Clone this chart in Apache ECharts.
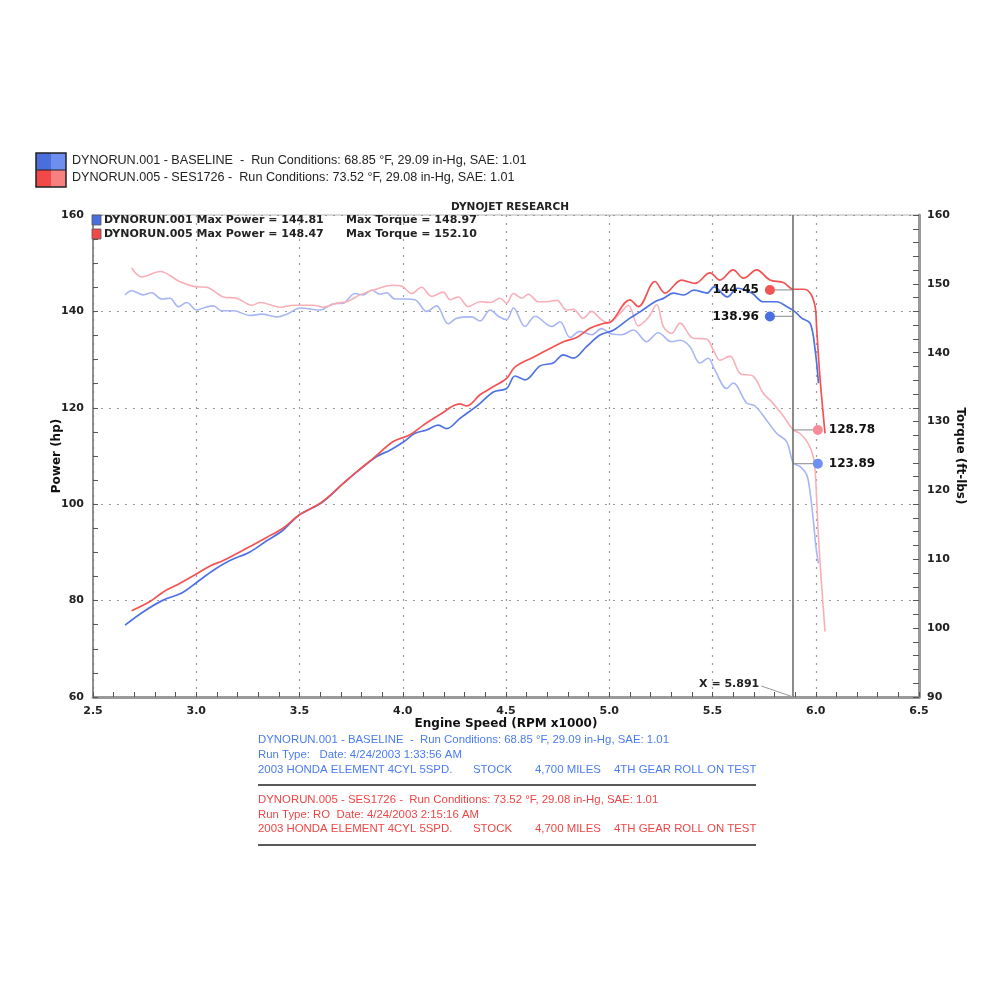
<!DOCTYPE html>
<html><head><meta charset="utf-8">
<script src="https://cdn.jsdelivr.net/npm/echarts/dist/echarts.min.js"></script>
<style>html,body{margin:0;padding:0;background:#fff}#c{width:1000px;height:1000px}</style>
</head><body><div id="c"></div>
<script>
// ---------- DATA ----------
const rpmBlueHp = [2.655,2.744,2.84,2.93,3.0,3.083,3.163,3.26,3.341,3.42,3.5,3.607,3.712,3.777,3.874,3.938,4.003,4.059,4.116,4.172,4.213,4.277,4.366,4.439,4.503,4.544,4.592,4.665,4.729,4.778,4.826,4.89,4.955,5.02,5.1,5.149,5.221,5.262,5.31,5.36,5.41,5.475,5.507,5.572,5.62,5.69,5.746,5.81,5.859,5.9,5.932,5.973,5.997,6.013];
const hpBlue    = [74.9,77.7,80.1,81.6,83.7,86.3,88.3,90.1,92.4,94.6,97.8,100.3,104.3,106.7,109.9,111.2,112.9,114.7,115.4,116.4,115.7,117.8,120.6,123.3,124.0,126.6,125.8,128.7,129.3,131.0,130.3,132.7,135.1,136.1,138.6,139.9,142.0,142.7,143.8,143.4,144.4,143.8,145.1,143.0,144.8,143.8,142.0,142.0,141.0,139.9,138.6,137.5,132.0,125.1];

const rpmRedHp = [2.687,2.776,2.84,2.913,3.0,3.067,3.131,3.26,3.341,3.42,3.5,3.607,3.712,3.777,3.857,3.954,4.035,4.1,4.18,4.277,4.31,4.374,4.439,4.503,4.544,4.633,4.713,4.778,4.842,4.907,4.972,5.012,5.1,5.141,5.221,5.27,5.35,5.415,5.488,5.536,5.6,5.65,5.714,5.778,5.843,5.891,5.94,5.973,5.997,6.004,6.02,6.045];
const hpRed    = [77.9,79.8,81.8,83.4,85.5,87.2,88.3,91.2,93.1,95.0,97.8,100.4,104.3,106.7,109.5,113.0,114.4,116.4,118.6,120.8,120.4,122.7,124.4,126.1,128.5,130.5,132.3,133.7,134.6,136.5,137.5,138.0,142.4,141.0,146.2,143.8,146.5,145.8,148.0,146.5,148.6,146.9,148.6,146.5,146.0,144.6,144.6,143.8,141.0,136.8,126.5,114.7];

const rpmBlueTq = [2.655,2.687,2.744,2.784,2.832,2.873,2.913,2.954,3.002,3.034,3.083,3.123,3.18,3.26,3.317,3.39,3.446,3.502,3.599,3.664,3.712,3.769,3.809,3.85,3.89,3.922,3.962,4.01,4.059,4.116,4.164,4.22,4.261,4.333,4.374,4.423,4.463,4.503,4.536,4.592,4.641,4.722,4.762,4.81,4.858,4.915,4.963,5.004,5.06,5.117,5.181,5.237,5.302,5.343,5.39,5.439,5.479,5.511,5.569,5.6,5.665,5.705,5.762,5.81,5.859,5.891,5.923,5.956,5.973,5.988,6.001,6.013];
const tqBlue    = [148.4,149.0,148.4,148.7,147.8,147.9,146.7,147.3,146.2,146.5,146.8,146.1,146.1,145.4,145.6,145.2,145.7,146.5,146.2,147.1,147.2,148.6,148.4,149.1,148.5,148.7,147.8,147.8,147.7,146.0,146.8,144.2,145.0,145.2,144.6,146.2,145.3,144.8,146.5,143.8,145.3,143.8,144.5,142.2,143.1,142.6,143.5,142.8,142.6,143.3,141.6,142.9,141.6,141.8,140.9,138.5,139.2,137.5,134.8,135.6,132.7,132.3,130.2,128.3,127.1,124.0,123.5,122.3,119.6,115.7,111.8,109.4];

const rpmRedTq = [2.687,2.736,2.825,2.921,2.994,3.05,3.131,3.196,3.269,3.31,3.406,3.471,3.567,3.616,3.68,3.729,3.793,3.857,3.954,3.994,4.043,4.091,4.14,4.196,4.229,4.269,4.317,4.374,4.423,4.471,4.503,4.536,4.576,4.608,4.657,4.697,4.746,4.794,4.826,4.874,4.915,4.955,4.995,5.052,5.093,5.141,5.189,5.23,5.262,5.302,5.343,5.407,5.471,5.504,5.536,5.584,5.633,5.697,5.746,5.786,5.843,5.891,5.923,5.964,5.988,5.997,6.013,6.029,6.045];
const tqRed    = [152.3,151.0,151.8,150.3,149.6,149.5,148.1,147.9,146.9,147.3,146.6,146.9,146.9,146.6,147.2,147.4,148.4,149.1,149.8,149.7,148.6,149.5,148.2,148.8,147.7,148.1,146.7,147.4,147.3,147.9,147.2,148.6,147.9,148.5,147.4,147.4,147.6,146.2,146.3,145.0,146.0,145.0,144.3,145.7,146.9,143.9,145.1,147.0,143.8,142.8,144.3,142.1,142.0,140.4,138.9,139.5,137.0,136.6,134.1,132.9,130.8,128.8,128.3,126.8,124.9,123.0,113.3,106.0,99.5];

const cursorX = 5.891;
const cursorPower = [138.96, 144.45];   // baseline, SES1726
const cursorTorque = [123.89, 128.78];  // baseline, SES1726
const powerDotX = 5.778;
const torqueDotX = 6.01;

const xTicks = [2.5, 6.5, 0.5];
const hpTicks = [60, 160, 20];
const tqTicks = [90, 160, 10];

const legendTop = [
  'DYNORUN.001 - BASELINE  -  Run Conditions: 68.85 \u00B0F, 29.09 in-Hg, SAE: 1.01',
  'DYNORUN.005 - SES1726 -  Run Conditions: 73.52 \u00B0F, 29.08 in-Hg, SAE: 1.01'
];
const legendInner = [
  ['DYNORUN.001 Max Power = 144.81', 'Max Torque = 148.97'],
  ['DYNORUN.005 Max Power = 148.47', 'Max Torque = 152.10']
];
const notesBlue = [
  'DYNORUN.001 - BASELINE  -  Run Conditions: 68.85 \u00B0F, 29.09 in-Hg, SAE: 1.01',
  'Run Type:   Date: 4/24/2003 1:33:56 AM'
];
const notesRed = [
  'DYNORUN.005 - SES1726 -  Run Conditions: 73.52 \u00B0F, 29.08 in-Hg, SAE: 1.01',
  'Run Type: RO  Date: 4/24/2003 2:15:16 AM'
];
const vehicleParts = ['2003 HONDA ELEMENT 4CYL 5SPD.', 'STOCK', '4,700 MILES', '4TH GEAR ROLL ON TEST'];

// ---------- STYLE ----------
const C = {
  bluePow: '#4f72e3', redPow: '#f25252',
  blueTq: '#a8b6f3', redTq: '#f8b0b8',
  blueTxt: '#4a7cf0', redTxt: '#f04545'
};
const VF = '"DejaVu Sans", Verdana, sans-serif';
const AF = '"Liberation Sans", Arial, sans-serif';

const zip = (xs, ys) => xs.map((x, i) => [x, ys[i]]);

const chart = echarts.init(document.getElementById('c'), null, {renderer: 'canvas'});

function lineSeries(name, data, color, yIdx, width, z) {
  return {name, type: 'line', data, yAxisIndex: yIdx, showSymbol: false, smooth: 0.35,
    lineStyle: {color, width}, itemStyle: {color}, z, silent: true, animation: false};
}
function leader(a, b, yIdx) {
  return {type: 'line', data: [a, b], yAxisIndex: yIdx, showSymbol: false, silent: true,
    lineStyle: {color: '#a0a0a0', width: 1.2}, z: 3, animation: false};
}
function dot(x, v, color, yIdx, pos) {
  return {type: 'scatter', yAxisIndex: yIdx, data: [[x, v]], symbolSize: 10, z: 6, silent: true,
    itemStyle: {color, opacity: 1}, animation: false,
    label: {show: true, position: pos, distance: 6, formatter: () => v.toFixed(2),
      fontFamily: VF, fontWeight: 'bold', fontSize: 12, color: '#111', opacity: 1}};
}

const axisLabelStyle = {fontFamily: VF, fontWeight: 'bold', fontSize: 11, color: '#222'};
const nameStyle = {fontFamily: VF, fontWeight: 'bold', fontSize: 12, color: '#111'};

const option = {
  animation: false,
  backgroundColor: '#fff',
  title: {text: 'DYNOJET RESEARCH', left: 505, top: 197, textAlign: 'center',
    textStyle: {fontFamily: VF, fontWeight: 'bold', fontSize: 10.5, color: '#222'}},
  grid: {left: 93, right: 81, top: 215, bottom: 303, show: true, borderColor: '#b5b5b5', borderWidth: 1},
  xAxis: {
    type: 'value', min: xTicks[0], max: xTicks[1], interval: xTicks[2],
    name: 'Engine Speed (RPM x1000)', nameLocation: 'middle', nameGap: 21, nameTextStyle: nameStyle,
    axisLine: {lineStyle: {color: '#9a9a9a', width: 3}},
    axisTick: {inside: true, length: 5, lineStyle: {color: '#555'}},
    minorTick: {show: true, splitNumber: 5, length: 5, lineStyle: {color: '#555'}},
    axisLabel: Object.assign({formatter: v => v.toFixed(1), margin: 9}, axisLabelStyle),
    splitLine: {show: true, lineStyle: {type: [2, 6], color: '#9a9a9a', width: 1.2}}
  },
  yAxis: [{
    type: 'value', min: hpTicks[0], max: hpTicks[1], interval: hpTicks[2], position: 'left',
    name: 'Power (hp)', nameLocation: 'middle', nameGap: 30, nameRotate: 90, nameMoveOverlap: false, nameTextStyle: nameStyle,
    axisLine: {show: true, lineStyle: {color: '#777', width: 1.5}},
    axisTick: {show: true, inside: true, length: 5, lineStyle: {color: '#555'}},
    minorTick: {show: true, splitNumber: 4, length: 5, lineStyle: {color: '#555'}},
    axisLabel: Object.assign({margin: 9}, axisLabelStyle),
    splitLine: {show: true, lineStyle: {type: [2, 6], color: '#9a9a9a', width: 1.2}}
  }, {
    type: 'value', min: tqTicks[0], max: tqTicks[1], interval: tqTicks[2], position: 'right',
    name: 'Torque (ft-lbs)', nameLocation: 'middle', nameGap: 35, nameRotate: -90, nameMoveOverlap: false, nameTextStyle: nameStyle,
    axisLine: {show: true, lineStyle: {color: '#9a9a9a', width: 3}},
    axisTick: {show: true, inside: true, length: 6, lineStyle: {color: '#555'}},
    minorTick: {show: true, splitNumber: 5, length: 6, lineStyle: {color: '#555'}},
    axisLabel: Object.assign({margin: 8}, axisLabelStyle),
    splitLine: {show: false}
  }],
  series: [
    lineSeries('tqBlue', zip(rpmBlueTq, tqBlue), C.blueTq, 1, 1.6, 2),
    lineSeries('tqRed', zip(rpmRedTq, tqRed), C.redTq, 1, 1.6, 2),
    lineSeries('hpBlue', zip(rpmBlueHp, hpBlue), C.bluePow, 0, 1.7, 4),
    Object.assign(lineSeries('hpRed', zip(rpmRedHp, hpRed), C.redPow, 0, 1.7, 4), {
      markLine: {silent: true, symbol: 'none', label: {show: false},
        lineStyle: {color: '#6e6e6e', width: 1.6, type: 'solid'},
        data: [{xAxis: cursorX}]}
    }),
    leader([cursorX, cursorPower[0]], [powerDotX, cursorPower[0]], 0),
    leader([cursorX, cursorPower[1]], [powerDotX, cursorPower[1]], 0),
    leader([cursorX, cursorTorque[0]], [torqueDotX, cursorTorque[0]], 1),
    leader([cursorX, cursorTorque[1]], [torqueDotX, cursorTorque[1]], 1),
    dot(powerDotX, cursorPower[0], '#4a6fe0', 0, 'left'),
    dot(powerDotX, cursorPower[1], '#f35555', 0, 'left'),
    dot(torqueDotX, cursorTorque[0], '#6f8ff2', 1, 'right'),
    dot(torqueDotX, cursorTorque[1], '#f78c98', 1, 'right')
  ]
};
chart.setOption(option);

// ---------- annotation text (graphic) ----------
const g = [];
function swatch(x, y, dark, light) {
  g.push({type: 'rect', shape: {x: x, y: y, width: 15, height: 17}, style: {fill: dark}});
  g.push({type: 'rect', shape: {x: x + 15, y: y, width: 15, height: 17}, style: {fill: light}});
}
swatch(36, 153, '#4a6fdc', '#6f8ff0');
swatch(36, 170, '#f24848', '#f78080');
g.push({type: 'rect', shape: {x: 36, y: 153, width: 30, height: 34}, style: {fill: 'none', stroke: '#222', lineWidth: 1.5}});
g.push({type: 'line', shape: {x1: 36, y1: 170, x2: 66, y2: 170}, style: {stroke: '#222', lineWidth: 1}});
legendTop.forEach((t, i) => g.push({type: 'text', x: 72, y: 161 + i * 17,
  style: {text: t, font: '12.6px ' + AF, fill: '#222', textVerticalAlign: 'middle'}}));

[['#4a6fdc', '#8aa3f3'], ['#f24848', '#f89a9a']].forEach((c, i) => {
  g.push({type: 'rect', shape: {x: 92, y: 215 + i * 14, width: 9, height: 10},
    style: {fill: c[0], stroke: '#555', lineWidth: 0.8}, z: 10});
  g.push({type: 'text', x: 104, y: 220 + i * 14, z: 10,
    style: {text: legendInner[i][0], font: 'bold 11px ' + VF, fill: '#222', textVerticalAlign: 'middle'}});
  g.push({type: 'text', x: 346, y: 220 + i * 14, z: 10,
    style: {text: legendInner[i][1], font: 'bold 11px ' + VF, fill: '#222', textVerticalAlign: 'middle'}});
});

const cb = chart.convertToPixel({xAxisIndex: 0, yAxisIndex: 0}, [cursorX, hpTicks[0]]);
g.push({type: 'text', x: cb[0] - 34, y: cb[1] - 13, z: 10,
  style: {text: 'X = ' + cursorX.toFixed(3), font: 'bold 11px ' + VF, fill: '#222', textAlign: 'right', textVerticalAlign: 'middle'}});
g.push({type: 'line', z: 10, shape: {x1: cb[0] - 32, y1: cb[1] - 11, x2: cb[0], y2: cb[1]}, style: {stroke: '#999', lineWidth: 1}});

const nx = 258;
const NF = '11.4px ' + AF;
notesBlue.forEach((t, i) => g.push({type: 'text', x: nx, y: 740 + i * 15,
  style: {text: t, font: NF, fill: C.blueTxt, textVerticalAlign: 'middle'}}));
notesRed.forEach((t, i) => g.push({type: 'text', x: nx, y: 800 + i * 15,
  style: {text: t, font: NF, fill: C.redTxt, textVerticalAlign: 'middle'}}));
const partX = [258, 473, 535, 614];
vehicleParts.forEach((t, i) => {
  g.push({type: 'text', x: partX[i], y: 770, style: {text: t, font: NF, fill: C.blueTxt, textVerticalAlign: 'middle'}});
  g.push({type: 'text', x: partX[i], y: 829, style: {text: t, font: NF, fill: C.redTxt, textVerticalAlign: 'middle'}});
});
g.push({type: 'line', shape: {x1: 258, y1: 785, x2: 756, y2: 785}, style: {stroke: '#222', lineWidth: 1.5}});
g.push({type: 'line', shape: {x1: 258, y1: 845, x2: 756, y2: 845}, style: {stroke: '#222', lineWidth: 1.5}});

chart.setOption({graphic: g});
</script></body></html>
